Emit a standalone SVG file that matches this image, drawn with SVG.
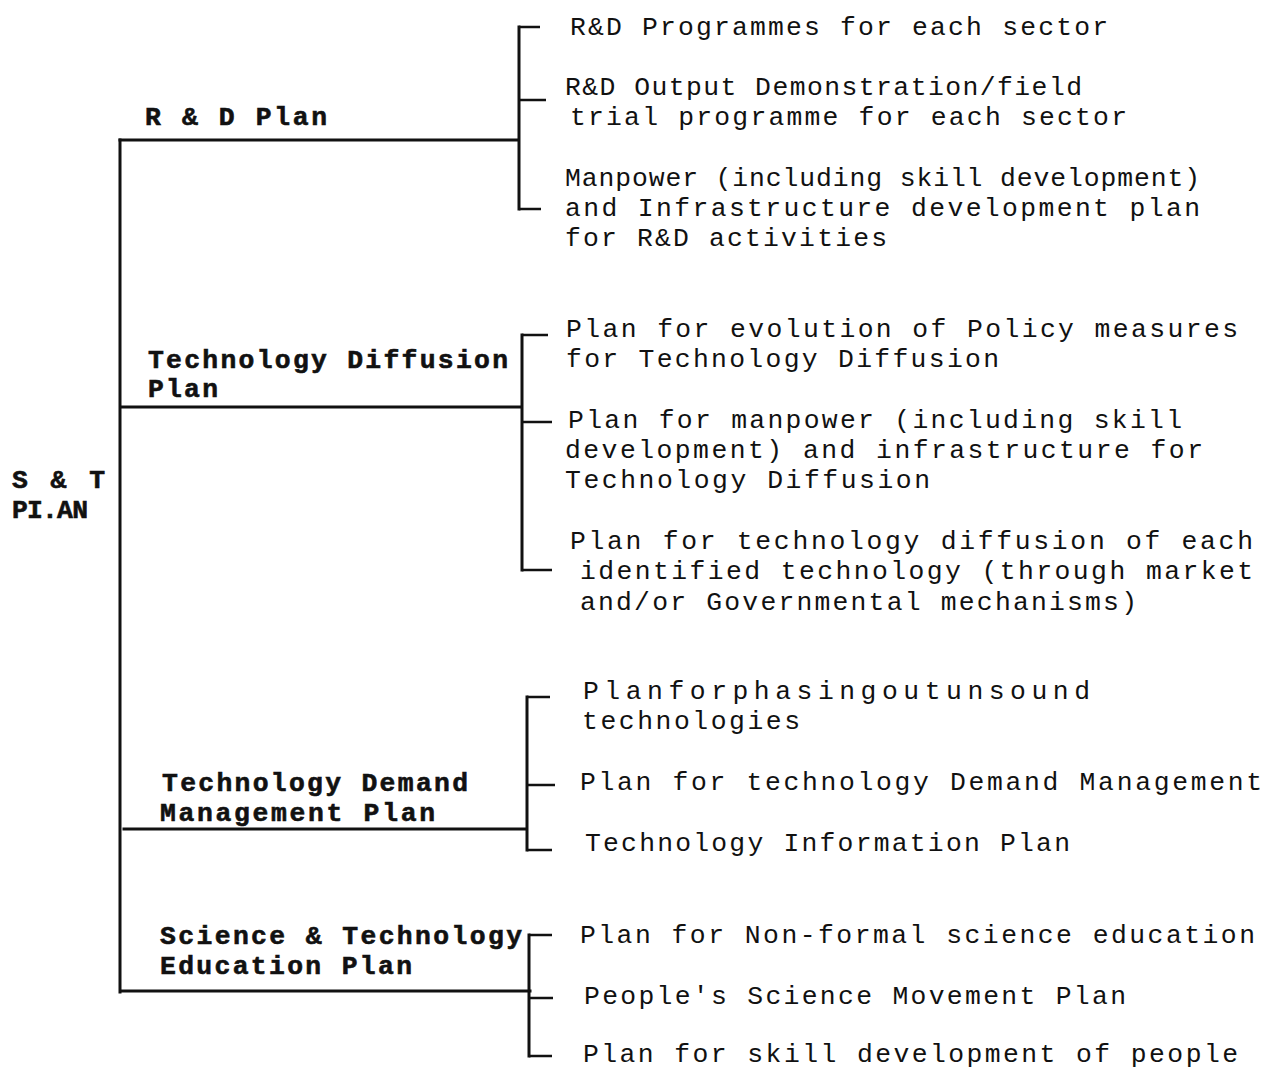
<svg xmlns="http://www.w3.org/2000/svg" width="1267" height="1068" viewBox="0 0 1267 1068">
<style>
.t{font-family:"Liberation Mono","Courier New",monospace;font-size:26.4px;fill:#111}
.b{font-family:"Liberation Mono","Courier New",monospace;font-size:26.4px;font-weight:bold;fill:#111;stroke:#111;stroke-width:0.6}
.ln{stroke:#111;stroke-width:3;fill:none;stroke-linecap:square}
.st{stroke:#111;stroke-width:2.5;fill:none}
</style>
<rect width="1267" height="1068" fill="#fff"/>
<g id="connectors">
<path class="ln" d="M120,140 V992"/>
<path class="ln" d="M120,140 H519 M519,27 V209"/>
<path class="st" d="M519,27 H540 M519,100 H546 M519,209 H541"/>
<path class="ln" d="M122,407 H522 M522,335 V570"/>
<path class="st" d="M522,335 H548 M522,422 H552 M522,570 H552"/>
<path class="ln" d="M124,829 H527 M527,697 V850"/>
<path class="st" d="M527,697 H550 M527,785 H555 M527,850 H552"/>
<path class="ln" d="M122,991 H530 M529,935 V1056"/>
<path class="st" d="M529,935 H552 M529,998 H553 M529,1056 H552"/>
</g>
<g id="root">
<text class="b"><tspan x="12" y="488" textLength="93" lengthAdjust="spacing">S &amp; T</tspan><tspan x="12" y="518" textLength="76" lengthAdjust="spacing">PI.AN</tspan></text>
</g>
<g id="rd-plan">
<text class="b" x="145" y="125" textLength="182" lengthAdjust="spacing">R &amp; D Plan</text>
</g>
<g id="td-plan">
<text class="b"><tspan x="148" y="368" textLength="360" lengthAdjust="spacing">Technology Diffusion</tspan><tspan x="148" y="397" textLength="70" lengthAdjust="spacing">Plan</tspan></text>
</g>
<g id="tdm-plan">
<text class="b"><tspan x="162" y="791" textLength="306" lengthAdjust="spacing">Technology Demand</tspan><tspan x="160" y="821" textLength="275" lengthAdjust="spacing">Management Plan</tspan></text>
</g>
<g id="ste-plan">
<text class="b"><tspan x="160" y="944" textLength="362" lengthAdjust="spacing">Science &amp; Technology</tspan><tspan x="160" y="974" textLength="252" lengthAdjust="spacing">Education Plan</tspan></text>
</g>
<g id="rd-1"><text class="t" x="570" y="35" textLength="538" lengthAdjust="spacing">R&amp;D Programmes for each sector</text></g>
<g id="rd-2">
<text class="t"><tspan x="565" y="95" textLength="517" lengthAdjust="spacing">R&amp;D Output Demonstration/field</tspan><tspan x="570" y="125" textLength="557" lengthAdjust="spacing">trial programme for each sector</tspan></text>
</g>
<g id="rd-3">
<text class="t"><tspan x="565" y="186" textLength="635" lengthAdjust="spacing">Manpower (including skill development)</tspan><tspan x="565" y="216" textLength="635" lengthAdjust="spacing">and Infrastructure development plan</tspan><tspan x="565" y="246" textLength="322" lengthAdjust="spacing">for R&amp;D activities</tspan></text>
</g>
<g id="td-1">
<text class="t"><tspan x="566" y="337" textLength="672" lengthAdjust="spacing">Plan for evolution of Policy measures</tspan><tspan x="566" y="367" textLength="433" lengthAdjust="spacing">for Technology Diffusion</tspan></text>
</g>
<g id="td-2">
<text class="t"><tspan x="568" y="428" textLength="614" lengthAdjust="spacing">Plan for manpower (including skill</tspan><tspan x="565" y="458" textLength="638" lengthAdjust="spacing">development) and infrastructure for</tspan><tspan x="565" y="488" textLength="365" lengthAdjust="spacing">Technology Diffusion</tspan></text>
</g>
<g id="td-3">
<text class="t"><tspan x="570" y="549" textLength="683" lengthAdjust="spacing">Plan for technology diffusion of each</tspan><tspan x="580" y="579" textLength="673" lengthAdjust="spacing">identified technology (through market</tspan><tspan x="580" y="610" textLength="557" lengthAdjust="spacing">and/or Governmental mechanisms)</tspan></text>
</g>
<g id="tdm-1">
<text class="t"><tspan x="583" y="699" textLength="507" lengthAdjust="spacing">Planforphasingoutunsound</tspan><tspan x="582" y="729" textLength="218" lengthAdjust="spacing">technologies</tspan></text>
</g>
<g id="tdm-2"><text class="t" x="580" y="790" textLength="682" lengthAdjust="spacing">Plan for technology Demand Management</text></g>
<g id="tdm-3"><text class="t" x="585" y="851" textLength="485" lengthAdjust="spacing">Technology Information Plan</text></g>
<g id="ste-1"><text class="t" x="580" y="943" textLength="675" lengthAdjust="spacing">Plan for Non-formal science education</text></g>
<g id="ste-2"><text class="t" x="584" y="1004" textLength="542" lengthAdjust="spacing">People's Science Movement Plan</text></g>
<g id="ste-3"><text class="t" x="583" y="1062" textLength="655" lengthAdjust="spacing">Plan for skill development of people</text></g>
</svg>
